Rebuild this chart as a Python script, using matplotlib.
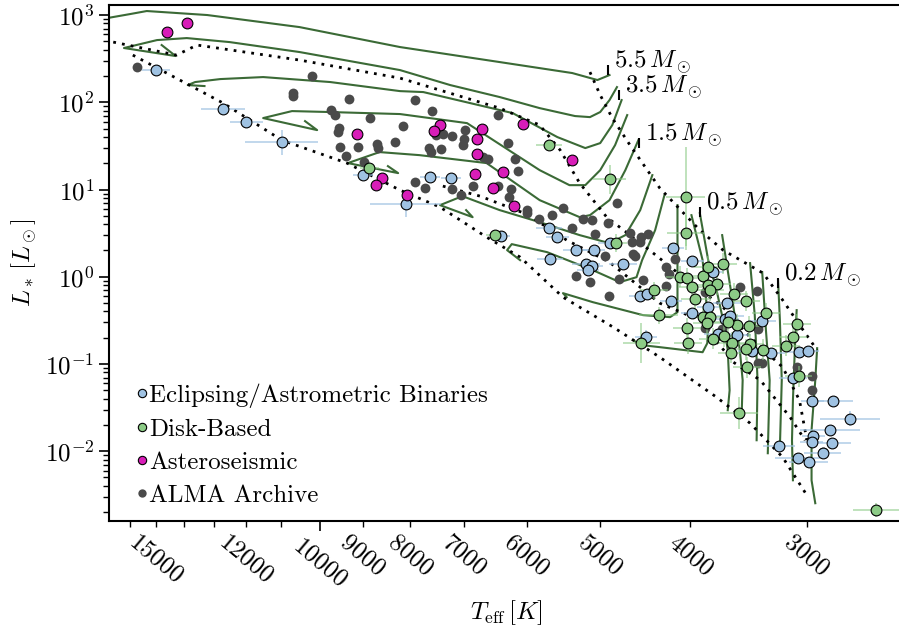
import numpy as np
import matplotlib
matplotlib.use('Agg')
import matplotlib.pyplot as plt
from matplotlib.lines import Line2D

plt.rcParams['font.family'] = 'serif'
plt.rcParams['font.serif'] = ['cmr10']
plt.rcParams['mathtext.fontset'] = 'cm'
plt.rcParams['axes.formatter.use_mathtext'] = True
plt.rcParams['font.size'] = 18

# ---- data (log10 Teff [K], log10 L [Lsun]) ----
alma_logT = [4.197, 4.008, 4.029, 4.029, 3.969, 3.988, 3.984, 3.946, 3.979, 3.981,
             3.978, 3.959, 3.939, 3.938, 3.919, 3.972, 3.953, 3.898, 3.880, 3.911,
             3.868, 3.858, 3.875, 3.844, 3.845, 3.846, 3.883, 3.881, 3.870, 3.809,
             3.798, 3.825, 3.819, 3.791, 3.787, 3.809, 3.795, 3.797, 3.778, 3.778,
             3.739, 3.751, 3.765, 3.729, 3.898, 3.887, 3.858, 3.836, 3.848, 3.681,
             3.717, 3.708, 3.691, 3.705, 3.667, 3.655, 3.648, 3.665, 3.664, 3.662,
             3.694, 3.725, 3.710, 3.679, 3.653, 3.690, 3.619, 3.628, 3.625, 3.628,
             3.586, 3.549, 3.531, 3.529, 3.568, 3.586, 3.529, 3.525, 3.488, 3.472,
             3.472, 3.460, 3.656]
alma_logL = [2.400, 2.300, 2.102, 2.071, 2.042, 1.911, 1.853, 1.815, 1.701, 1.658,
             1.483, 1.483, 1.521, 1.481, 1.547, 1.383, 1.311, 2.022, 1.905, 1.731,
             1.635, 1.612, 1.624, 1.681, 1.578, 1.509, 1.471, 1.432, 1.463, 1.850,
             1.536, 1.375, 1.345, 1.352, 1.214, 1.039, 1.005, 0.916, 0.770, 0.726,
             0.783, 0.706, 0.657, 0.554, 1.088, 1.020, 1.008, 1.039, 0.936, 0.850,
             0.661, 0.646, 0.611, 0.489, 0.497, 0.454, 0.489, 0.403, 0.265, 0.236,
             0.242, 0.003, -0.062, -0.031, -0.039, -0.223, 0.208, 0.110, 0.030, -0.108,
             -0.173, -0.116, -0.165, -0.598, -0.601, -0.590, -0.983, -0.983, -1.037, -1.140,
             -1.293, -2.012, 0.397]

eb_logT = [4.176, 4.104, 4.079, 4.041, 3.954, 3.908, 3.882, 3.859, 3.806, 3.754,
           3.745, 3.725, 3.706, 3.753, 3.714, 3.708, 3.712, 3.675, 3.689, 3.656,
           3.649, 3.650, 3.623, 3.621, 3.600, 3.600, 3.583, 3.578, 3.563, 3.565,
           3.560, 3.573, 3.552, 3.525, 3.536, 3.516, 3.486, 3.476, 3.492, 3.471,
           3.449, 3.431, 3.452, 3.470, 3.472, 3.450, 3.460, 3.507, 3.487, 3.475]
eb_logL = [2.369, 1.922, 1.770, 1.540, 1.165, 0.829, 1.146, 1.134, 0.469, 0.561,
           0.454, 0.305, 0.305, 0.198, 0.141, 0.118, 0.072, 0.141, 0.389, -0.223,
           -0.192, -0.687, -0.280, 0.331, 0.179, -0.414, -0.349, 0.049, -0.306, -0.486,
           -0.452, -0.658, -0.670, -0.512, -0.853, -0.871, -0.865, -0.851, -1.160, -1.427,
           -1.427, -1.625, -1.759, -1.828, -1.897, -1.905, -2.020, -1.943, -2.072, -2.123]
eb_dT = [0.015, 0.024, 0.018, 0.039, 0.011, 0.038, 0.011, 0.011, 0.010, 0.014,
         0.012, 0.014, 0.012, 0.014, 0.015, 0.012, 0.012, 0.015, 0.012, 0.012,
         0.012, 0.012, 0.012, 0.012, 0.012, 0.012, 0.012, 0.012, 0.015, 0.015,
         0.015, 0.015, 0.015, 0.015, 0.015, 0.015, 0.012, 0.012, 0.015, 0.012,
         0.021, 0.032, 0.032, 0.012, 0.012, 0.020, 0.020, 0.017, 0.024, 0.021]
eb_dL = [0.03, 0.07, 0.04, 0.14, 0.03, 0.14, 0.03, 0.03, 0.03, 0.03,
         0.03, 0.04, 0.04, 0.03, 0.05, 0.05, 0.05, 0.05, 0.05, 0.05,
         0.05, 0.08, 0.05, 0.05, 0.05, 0.05, 0.05, 0.05, 0.05, 0.05,
         0.05, 0.05, 0.05, 0.05, 0.05, 0.05, 0.05, 0.05, 0.05, 0.05,
         0.05, 0.09, 0.05, 0.05, 0.05, 0.05, 0.05, 0.05, 0.05, 0.05]

disk_logT = [3.947, 3.812, 3.754, 3.689, 3.607, 3.607, 3.682, 3.641, 3.636, 3.655,
             3.606, 3.605, 3.613, 3.606, 3.600, 3.597, 3.589, 3.583, 3.567, 3.583,
             3.574, 3.581, 3.589, 3.581, 3.584, 3.555, 3.542, 3.521, 3.552, 3.562,
             3.539, 3.566, 3.578, 3.557, 3.558, 3.538, 3.542, 3.524, 3.541, 3.488,
             3.492, 3.499, 3.486, 3.550, 3.403]
disk_logL = [1.249, 0.481, 1.513, 1.116, 0.919, 0.503, 0.389, -0.157, -0.444, -0.762,
             -0.593, -0.765, -0.001, -0.020, -0.114, -0.260, 0.007, 0.116, 0.148, -0.093,
             -0.087, -0.154, -0.460, -0.460, -0.532, -0.196, -0.278, -0.421, -0.549, -0.517,
             -0.570, -0.681, -0.712, -0.754, -0.873, -0.773, -0.830, -0.838, -1.040, -0.546,
             -0.689, -0.793, -1.140, -1.561, -2.669]
disk_dT = [0.010, 0.010, 0.014, 0.018, 0.021, 0.020, 0.012, 0.015, 0.021, 0.020,
           0.015, 0.015, 0.015, 0.015, 0.015, 0.015, 0.015, 0.015, 0.015, 0.015,
           0.015, 0.015, 0.015, 0.015, 0.015, 0.015, 0.015, 0.015, 0.015, 0.015,
           0.015, 0.015, 0.015, 0.015, 0.015, 0.015, 0.015, 0.015, 0.015, 0.015,
           0.015, 0.015, 0.015, 0.020, 0.025]
disk_dL = [0.05, 0.05, 0.05, 0.17, 0.57, 0.20, 0.10, 0.10, 0.10, 0.23,
           0.12, 0.12, 0.12, 0.12, 0.12, 0.12, 0.12, 0.12, 0.12, 0.12,
           0.12, 0.12, 0.12, 0.12, 0.12, 0.12, 0.12, 0.12, 0.12, 0.12,
           0.12, 0.12, 0.12, 0.12, 0.12, 0.12, 0.12, 0.12, 0.12, 0.12,
           0.12, 0.12, 0.12, 0.18, 0.08]

astero_logT = [4.164, 4.143, 3.960, 3.933, 3.940, 3.907, 3.871, 3.878, 3.826, 3.831,
               3.831, 3.782, 3.803, 3.833, 3.814, 3.792, 3.729]
astero_logL = [2.802, 2.912, 1.633, 1.136, 1.054, 0.939, 1.735, 1.673, 1.693, 1.578,
               1.406, 1.753, 1.203, 1.173, 1.013, 0.810, 1.335]

# evolutionary tracks (log Teff, log L)
tracks = {
    5.5: ([3.689, 3.702, 3.729, 3.807, 3.914, 4.022, 4.121, 4.186, 4.204, 4.228],
          [2.312, 2.255, 2.335, 2.461, 2.633, 2.862, 3.000, 3.046, 3.011, 2.966]),
    3.5: ([3.681, 3.689, 3.699, 3.710, 3.726, 3.764, 3.807, 3.860, 3.914, 4.022, 4.097, 4.143, 4.175, 4.2105, 4.155, 4.170],
          [2.174, 2.025, 1.888, 1.830, 1.842, 1.933, 2.060, 2.197, 2.369, 2.576, 2.690, 2.736, 2.713, 2.622, 2.530, 2.656]),
    2.5: ([3.676, 3.686, 3.699, 3.715, 3.745, 3.793, 3.889, 3.914, 3.989, 4.061, 4.107, 4.134, 4.142, 4.124],
          [2.025, 1.739, 1.532, 1.475, 1.601, 1.876, 2.117, 2.128, 2.232, 2.289, 2.266, 2.232, 2.197, 2.186]),
    2.0: ([3.670, 3.683, 3.699, 3.715, 3.732, 3.764, 3.842, 3.914, 3.989, 4.030, 4.061, 4.003, 4.016],
          [1.853, 1.509, 1.222, 1.050, 1.050, 1.222, 1.761, 1.865, 1.888, 1.899, 1.819, 1.681, 1.784]),
    1.5: ([3.658, 3.672, 3.689, 3.710, 3.721, 3.764, 3.821, 3.893, 3.936, 3.970, 3.916, 3.927],
          [1.566, 1.222, 0.878, 0.706, 0.683, 0.878, 1.303, 1.394, 1.429, 1.303, 1.188, 1.268]),
    1.2: ([3.643, 3.656, 3.672, 3.689, 3.721, 3.764, 3.807, 3.847, 3.871, 3.836, 3.843],
          [1.165, 0.764, 0.477, 0.385, 0.477, 0.626, 0.764, 0.924, 0.821, 0.683, 0.764]),
    1.0: ([3.630, 3.640, 3.654, 3.660, 3.678, 3.707, 3.756, 3.794, 3.799, 3.785],
          [0.936, 0.534, 0.190, -0.005, -0.062, 0.076, 0.282, 0.374, 0.305, 0.190]),
    0.8: ([3.616, 3.616, 3.616, 3.616, 3.624, 3.653, 3.707, 3.739, 3.735],
          [0.821, 0.190, -0.154, -0.406, -0.463, -0.440, -0.291, -0.188, -0.234]),
    0.7: ([3.601, 3.589, 3.583, 3.584, 3.589, 3.635, 3.654, 3.664],
          [0.706, 0.190, -0.532, -0.762, -0.865, -0.807, -0.784, -0.727]),
    0.5: ([3.592, 3.583, 3.574, 3.567, 3.562, 3.560, 3.562],
          [0.729, 0.190, -0.154, -0.498, -0.842, -1.301, -1.530]),
    0.4: ([3.568, 3.557, 3.549, 3.546, 3.547],
          [0.477, -0.268, -0.842, -1.186, -1.564]),
    0.3: ([3.538, 3.533, 3.530, 3.531],
          [0.156, -0.440, -1.186, -1.874]),
    0.25: ([3.525, 3.521, 3.517, 3.519],
           [0.053, -0.612, -1.186, -2.023]),
    0.2: ([3.508, 3.506, 3.504, 3.506],
          [-0.039, -0.498, -1.186, -1.954]),
    0.15: ([3.488, 3.490, 3.492, 3.493, 3.492],
           [-0.383, -0.842, -1.415, -1.874, -2.333]),
    0.1: ([3.466, 3.468, 3.472, 3.472, 3.468],
          [-0.819, -1.186, -1.759, -2.333, -2.596]),
}

# isochrones (dotted)
isochrones = [
    ([3.710, 3.699, 3.686, 3.667, 3.635, 3.592, 3.567, 3.524, 3.503, 3.481, 3.466],
     [2.346, 2.083, 1.819, 1.509, 1.016, 0.534, 0.305, 0.041, -0.268, -0.612, -0.842]),
    ([4.222, 4.154, 4.132, 4.022, 3.914, 3.807, 3.764, 3.742, 3.721, 3.692, 3.646, 3.610, 3.567, 3.538, 3.503, 3.485, 3.477],
     [2.690, 2.541, 2.656, 2.484, 2.277, 1.933, 1.739, 1.452, 1.073, 0.683, 0.305, -0.005, -0.349, -0.693, -1.037, -1.415, -1.874]),
    ([3.868, 3.828, 3.778, 3.735, 3.689, 3.635, 3.592, 3.556, 3.527, 3.495, 3.479],
     [1.039, 0.924, 0.718, 0.420, 0.167, -0.303, -0.498, -0.979, -1.186, -1.610, -1.874]),
    ([4.201, 4.104, 4.041, 3.971, 3.914, 3.871, 3.821, 3.785, 3.739, 3.685, 3.635, 3.574, 3.538, 3.503, 3.477],
     [2.541, 1.991, 1.566, 1.303, 0.993, 0.798, 0.454, 0.225, -0.234, -0.578, -0.922, -1.381, -1.679, -2.069, -2.505]),
]

mass_labels = ['5.5', '3.5', '1.5', '0.5', '0.2']
label_logT = [3.691, 3.679, 3.657, 3.592, 3.508]
label_logL = [2.369, 2.080, 1.532, 0.741, -0.073]

xticks_minor = [16000, 15000, 14000, 13000, 12000, 11000, 9000, 8000, 7000, 6000, 5000, 4000, 3000]
xticklabels_minor = ['', '15000', '', '', '12000', '', '9000', '8000', '7000', '6000', '5000', '4000', '3000']

c_eb = '#9fc2e2'
c_disk = '#8ccb86'
c_astero = '#d81db8'
c_alma = '#4a4a4a'
c_track = '#3b6a36'


def lin_err(logv, dex):
    logv = np.asarray(logv)
    dex = np.asarray(dex)
    return np.vstack([10**logv - 10**(logv - dex), 10**(logv + dex) - 10**logv])


fig = plt.figure(figsize=(8.99, 6.26), dpi=100)
ax = fig.add_axes([0.1212, 0.1677, 0.8832, 0.8243])

for m, (lt, ll) in tracks.items():
    ax.plot(10**np.array(lt), 10**np.array(ll), color=c_track, lw=1.5, zorder=2)

for lt, ll in isochrones:
    ax.plot(10**np.array(lt), 10**np.array(ll), color='k', lw=2, ls=(0, (1, 2.2)), zorder=3)

ax.scatter(10**np.array(alma_logT), 10**np.array(alma_logL), s=50, color=c_alma, lw=0, zorder=4)

ax.errorbar(10**np.array(eb_logT), 10**np.array(eb_logL), xerr=lin_err(eb_logT, eb_dT),
            yerr=lin_err(eb_logL, eb_dL), fmt='none', ecolor=c_eb, elinewidth=1.3, alpha=0.7, zorder=5)
ax.errorbar(10**np.array(disk_logT), 10**np.array(disk_logL), xerr=lin_err(disk_logT, disk_dT),
            yerr=lin_err(disk_logL, disk_dL), fmt='none', ecolor=c_disk, elinewidth=1.3, alpha=0.6, zorder=5)
ax.scatter(10**np.array(eb_logT), 10**np.array(eb_logL), s=60, color=c_eb, edgecolor='k', lw=0.8, zorder=6)
ax.scatter(10**np.array(disk_logT), 10**np.array(disk_logL), s=60, color=c_disk, edgecolor='k', lw=0.8, zorder=7)
ax.scatter(10**np.array(astero_logT), 10**np.array(astero_logL), s=60, color=c_astero, edgecolor='k', lw=0.8, zorder=8)

for lab, lt, ll in zip(mass_labels, label_logT, label_logL):
    ax.plot(10**lt, 10**ll, marker='|', color='k', ms=7, mew=1.5, zorder=9)
    ax.annotate(lab + r'$\,M_\odot$', (10**lt, 10**ll), xytext=(6, -6), textcoords='offset pixels',
                ha='left', va='bottom', fontsize=18)

ax.set_xscale('log')
ax.set_yscale('log')
ax.set_xlim(16850, 2365)
ax.set_ylim(10**-2.80, 10**3.115)

ax.set_xticks([10000])
ax.set_xticklabels(['10000'])
ax.set_xticks(xticks_minor, minor=True)
ax.set_xticklabels(xticklabels_minor, minor=True)
for lab in ax.get_xticklabels(which='both'):
    lab.set_rotation(-40)
    lab.set_ha('center')
    lab.set_va('top')
ax.tick_params(axis='both', which='major', length=7, width=1.2, labelsize=18, direction='out')
ax.tick_params(axis='both', which='minor', length=4, width=1.0, labelsize=18, direction='out')
for sp in ax.spines.values():
    sp.set_linewidth(1.5)

ax.set_xlabel(r'$T_{\rm eff}\,[K]$', fontsize=18)
ax.set_ylabel(r'$L_*\,[L_\odot]$', fontsize=18)

handles = [Line2D([], [], ls='none', marker='o', ms=6, mfc=c_eb, mec='k', mew=0.8),
           Line2D([], [], ls='none', marker='o', ms=6, mfc=c_disk, mec='k', mew=0.8),
           Line2D([], [], ls='none', marker='o', ms=6, mfc=c_astero, mec='k', mew=0.8),
           Line2D([], [], ls='none', marker='o', ms=6, mfc=c_alma, mec=c_alma, mew=0)]
ax.legend(handles, ['Eclipsing/Astrometric Binaries', 'Disk-Based', 'Asteroseismic', 'ALMA Archive'],
          loc='lower left', bbox_to_anchor=(0.01, -0.012), frameon=False, fontsize=18,
          handlelength=0.4, handletextpad=0.1, labelspacing=0.42, borderpad=0.3)

fig.savefig('out.png', dpi=100)
